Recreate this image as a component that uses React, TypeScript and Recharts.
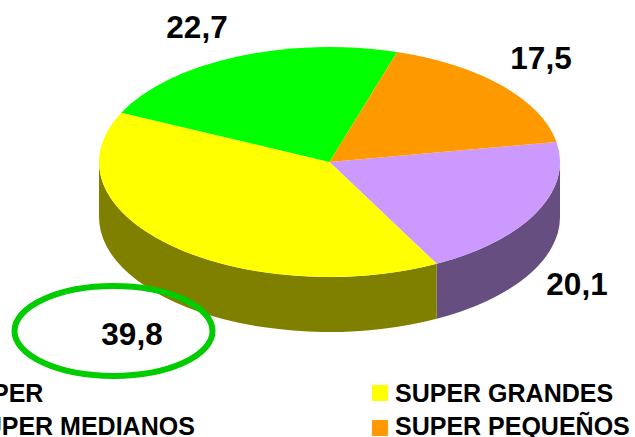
import React from "react";
import { PieChart, Pie, Legend } from "recharts";

const categories = ["HIPER", "SUPER GRANDES", "SUPER MEDIANOS", "SUPER PEQUEÑOS"];
const values = [20.1, 39.8, 22.7, 17.5];
const valueLabels = ["20,1", "39,8", "22,7", "17,5"];
const topColors = ["#cc99ff", "#ffff00", "#00ff00", "#ff9900"];
const wallColors = ["#664f80", "#808000", "#008000", "#804d00"];

const topData = categories.map((name, i) => ({ name, value: values[i], fill: topColors[i], label: valueLabels[i] }));
const wallData = categories.map((name, i) => ({ name, value: values[i], fill: wallColors[i] }));

const CX = 329.5;
const CY = 162;
const RX = 230.5;
const SQUASH = 115 / 230.5;
const DEPTH = 55;
const START = 10;
const FONT = "'Liberation Sans', Arial, sans-serif";
const labelCentres = [
  { x: 577, y: 284 },
  { x: 132, y: 334 },
  { x: 197, y: 27 },
  { x: 541, y: 58 },
];
const swatchNudge = [-0.5, -0.5, 1.5, 1.5];
const rad = (d: number) => (d * Math.PI) / 180;

function TopSlice(p: any) {
  const { cx, cy, outerRadius: r, startAngle, endAngle, fill } = p;
  const ry = r * SQUASH;
  const x = (a: number) => cx + r * Math.cos(rad(a));
  const y = (a: number) => cy - ry * Math.sin(rad(a));
  const large = Math.abs(endAngle - startAngle) > 180 ? 1 : 0;
  const sweep = endAngle < startAngle ? 1 : 0;
  const d = `M${cx},${cy}L${x(startAngle)},${y(startAngle)}A${r},${ry} 0 ${large} ${sweep} ${x(endAngle)},${y(endAngle)}Z`;
  return <path d={d} fill={fill} stroke="none" />;
}

function WallSlice(p: any) {
  const { cx, cy, outerRadius: r, startAngle, endAngle, fill } = p;
  const ry = r * SQUASH;
  // front half of the rim is angle 0 to -180; the sweep runs clockwise (decreasing)
  const hi = Math.min(startAngle, 0);
  const lo = Math.max(endAngle, -180);
  if (hi <= lo) return <g />;
  const x = (a: number) => cx + r * Math.cos(rad(a));
  const y = (a: number) => cy - ry * Math.sin(rad(a));
  const d =
    `M${x(hi)},${y(hi)}A${r},${ry} 0 0 1 ${x(lo)},${y(lo)}` +
    `L${x(lo)},${y(lo) + DEPTH}A${r},${ry} 0 0 0 ${x(hi)},${y(hi) + DEPTH}Z`;
  return <path d={d} fill={fill} stroke="none" />;
}

function ValueLabel(p: any) {
  const i = p.index;
  const c = labelCentres[i];
  return (
    <g>
      {i === 1 && <ellipse cx={113.5} cy={331} rx={99} ry={45} fill="none" stroke="#00cc00" strokeWidth={6} />}
      <text x={c.x} y={c.y} textAnchor="middle" dominantBaseline="central" fontFamily={FONT} fontWeight="bold" fontSize={31.5} fill="#000">
        {p.payload.label}
      </text>
    </g>
  );
}

function LegendBox(p: any) {
  const items = (p.payload || []).filter((e: any) => e.type !== "none");
  return (
    <div style={{ display: "grid", gridTemplateColumns: "428px 300px", gridAutoRows: "33px", fontFamily: FONT, fontWeight: "bold", fontSize: 25, color: "#000" }}>
      {items.map((e: any, i: number) => (
        <div key={e.value} style={{ display: "flex", alignItems: "center", whiteSpace: "nowrap", height: 33 }}>
          <span style={{ width: 16, height: 16, background: e.color, marginRight: 7, flex: "none", position: "relative", top: swatchNudge[i] }} />
          {e.value}
        </div>
      ))}
    </div>
  );
}

export default function App() {
  return (
    <div style={{ position: "absolute", left: 0, top: 0, width: 635, height: 437, overflow: "hidden", background: "#fff" }}>
      <PieChart width={635} height={437} margin={{ top: 0, right: 0, bottom: 0, left: 0 }}>
        <Pie data={wallData} dataKey="value" nameKey="name" cx={CX} cy={CY} innerRadius={0} outerRadius={RX} startAngle={START} endAngle={START - 360} shape={WallSlice} legendType="none" isAnimationActive={false} stroke="none" />
        <Pie data={topData} dataKey="value" nameKey="name" cx={CX} cy={CY} innerRadius={0} outerRadius={RX} startAngle={START} endAngle={START - 360} shape={TopSlice} label={ValueLabel} labelLine={false} isAnimationActive={false} stroke="none" />
        <Legend content={LegendBox} wrapperStyle={{ position: "absolute", left: -56, top: 377, width: 760, height: 66 }} />
      </PieChart>
    </div>
  );
}
